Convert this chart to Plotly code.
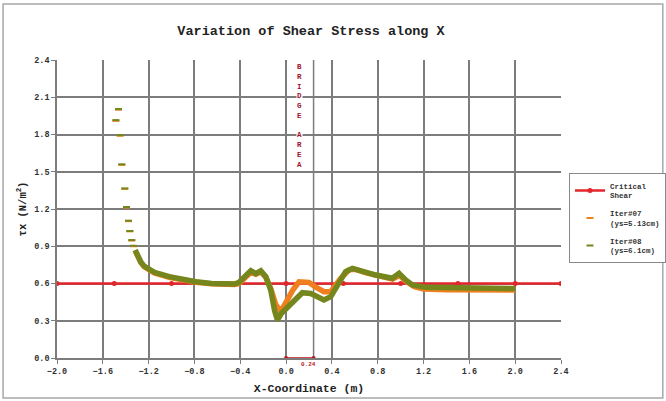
import plotly.graph_objects as go

# Critical shear threshold (N/m2) along the reach
crit_x = [-2.0, -1.5, -1.0, -0.5, 0.0, 0.5, 1.0, 1.5, 2.0, 2.4]
crit_y = [0.6] * len(crit_x)

# Sparse upstream samples (shown as dash markers)
up_x = [-1.463, -1.486, -1.449, -1.434, -1.408, -1.393, -1.376, -1.364, -1.347, -1.332]
up_y07 = [2.000, 1.910, 1.790, 1.555, 1.362, 1.212, 1.102, 1.020, 0.946, 0.900]
up_y08 = [2.005, 1.916, 1.795, 1.560, 1.366, 1.216, 1.106, 1.023, 0.950, 0.904]

# Iter#07 (ys=5.13cm) dense profile
it07_x = [-1.318, -1.30, -1.268, -1.239, -1.15, -1.02, -0.90, -0.788, -0.65, -0.526,
          -0.45, -0.41, -0.35, -0.308, -0.264, -0.221, -0.177, -0.134, -0.09, -0.046,
          0.0, 0.06, 0.113, 0.20, 0.26, 0.33, 0.39, 0.477, 0.55, 0.60, 0.70, 0.80,
          0.93, 0.99, 1.05, 1.12, 1.20, 1.40, 1.60, 1.80, 2.00]
it07_y = [0.865, 0.825, 0.768, 0.735, 0.685, 0.650, 0.628, 0.610, 0.597, 0.591,
          0.593, 0.600, 0.650, 0.690, 0.675, 0.695, 0.650, 0.560, 0.430, 0.373,
          0.450, 0.550, 0.614, 0.609, 0.570, 0.534, 0.534, 0.642, 0.710, 0.715, 0.685, 0.660,
          0.635, 0.665, 0.615, 0.575, 0.555, 0.550, 0.548, 0.548, 0.548]

# Iter#08 (ys=6.1cm) dense profile
it08_x = [-1.318, -1.30, -1.268, -1.239, -1.15, -1.02, -0.90, -0.788, -0.65, -0.526,
          -0.45, -0.41, -0.35, -0.308, -0.264, -0.221, -0.177, -0.134, -0.10, -0.076,
          -0.04, 0.0, 0.055, 0.142, 0.215, 0.28, 0.33, 0.39, 0.46, 0.52, 0.579, 0.666,
          0.783, 0.928, 0.986, 1.044, 1.102, 1.219, 1.40, 1.60, 1.80, 2.00]
it08_y = [0.870, 0.830, 0.773, 0.740, 0.690, 0.655, 0.632, 0.614, 0.600, 0.594,
          0.596, 0.610, 0.660, 0.703, 0.680, 0.703, 0.655, 0.547, 0.380, 0.306,
          0.360, 0.400, 0.453, 0.526, 0.520, 0.490, 0.467, 0.494, 0.600, 0.695, 0.722, 0.695,
          0.668, 0.642, 0.682, 0.628, 0.588, 0.569, 0.565, 0.563, 0.562, 0.560]

# Bridge opening width (m)
bridge_w = 0.24

x_ticks = [-2.0, -1.6, -1.2, -0.8, -0.4, 0.0, 0.4, 0.8, 1.2, 1.6, 2.0, 2.4]
y_ticks = [0.0, 0.3, 0.6, 0.9, 1.2, 1.5, 1.8, 2.1, 2.4]

RED = "#e3262b"
ORANGE = "#f0801f"
OLIVE = "#74861c"
GRID = "#7c7c7c"
MONO = "Liberation Mono"

fig = go.Figure()

fig.add_trace(go.Scatter(
    x=crit_x, y=crit_y, mode="lines+markers", name="Critical<br>Shear",
    legendgroup="crit",
    line=dict(color=RED, width=2.5), marker=dict(color=RED, size=5),
))

# Iter#07
fig.add_trace(go.Scatter(
    x=it07_x, y=it07_y, mode="lines", showlegend=False, hoverinfo="skip",
    legendgroup="it07",
    line=dict(color=ORANGE, width=5.5),
))
fig.add_trace(go.Scatter(
    x=up_x, y=up_y07, mode="markers", name="Iter#07<br>(ys=5.13cm)",
    legendgroup="it07",
    marker=dict(symbol="line-ew", size=5, line=dict(color=ORANGE, width=2)),
))

# Iter#08
fig.add_trace(go.Scatter(
    x=it08_x, y=it08_y, mode="lines", showlegend=False, hoverinfo="skip",
    legendgroup="it08",
    line=dict(color=OLIVE, width=5.5),
))
fig.add_trace(go.Scatter(
    x=up_x, y=up_y08, mode="markers", name="Iter#08<br>(ys=6.1cm)",
    legendgroup="it08",
    marker=dict(symbol="line-ew", size=5, line=dict(color=OLIVE, width=2)),
))

# Bridge width dimension along the bed
fig.add_trace(go.Scatter(
    x=[0.0, bridge_w], y=[0.0, 0.0], mode="lines+markers", showlegend=False,
    hoverinfo="skip", cliponaxis=False,
    line=dict(color="#c0141c", width=1.5), marker=dict(color="#c0141c", size=4),
))

fig.add_shape(type="line", xref="x", yref="y", x0=bridge_w, x1=bridge_w, y0=0, y1=2.4,
              line=dict(color=GRID, width=1.5), layer="below")

fig.add_annotation(
    x=bridge_w, y=0.0, xref="x", yref="y", text=f"{bridge_w:.2f}", showarrow=False,
    yshift=-6, xshift=-5, xanchor="center",
    font=dict(family=MONO, size=6, color="#c0141c", weight="bold"),
)

fig.add_annotation(
    x=bridge_w / 2, y=1.953, xref="x", yref="y",
    text="B<br>R<br>I<br>D<br>G<br>E<br>&nbsp;<br>A<br>R<br>E<br>A", showarrow=False,
    bgcolor="white", borderpad=0,
    font=dict(family=MONO, size=7.5, color="#a01030", weight="bold"),
)

# Outer frame of the chart
fig.add_shape(type="rect", xref="paper", yref="paper", x0=-0.107, x1=1.202, y0=-0.134, y1=1.188,
              line=dict(color="#a8a8a8", width=1.5))

fig.update_layout(
    width=666, height=401,
    margin=dict(l=57, r=105, t=60, b=43, autoexpand=False),
    paper_bgcolor="white", plot_bgcolor="white",
    title=dict(text="Variation of Shear Stress along X", x=311 / 666, xanchor="center",
               y=1 - 30 / 401, yanchor="middle",
               font=dict(family=MONO, size=13.5, color="#222222", weight="bold")),
    legend=dict(x=(569 - 57) / 504, y=0.62, xanchor="left", yanchor="top",
                bgcolor="white", bordercolor="#8a8a8a", borderwidth=1,
                font=dict(family=MONO, size=7.5, color="#333333", weight="bold"),
                tracegroupgap=5, itemwidth=30),
    showlegend=True,
)

fig.update_xaxes(
    range=[-2.0, 2.4], tickvals=x_ticks, tickformat=".1f",
    showgrid=True, gridcolor=GRID, gridwidth=1.5, zeroline=False,
    showline=True, linecolor=GRID, linewidth=1.5,
    ticks="outside", ticklen=4, tickcolor=GRID,
    tickfont=dict(family=MONO, size=8.5, color="#333333", weight="bold"),
    title=dict(text="X-Coordinate (m)", standoff=8,
               font=dict(family=MONO, size=11.5, color="#222222", weight="bold")),
)
fig.update_yaxes(
    range=[0.0, 2.4], tickvals=y_ticks, tickformat=".1f",
    showgrid=True, gridcolor=GRID, gridwidth=1.5, zeroline=False,
    showline=True, linecolor=GRID, linewidth=1.5,
    ticks="outside", ticklen=4, tickcolor=GRID,
    tickfont=dict(family=MONO, size=8.5, color="#333333", weight="bold"),
    title=dict(text="τx (N/m<sup>2</sup>)", standoff=6,
               font=dict(family=MONO, size=10.5, color="#222222", weight="bold")),
)

fig.write_html("out.html")
